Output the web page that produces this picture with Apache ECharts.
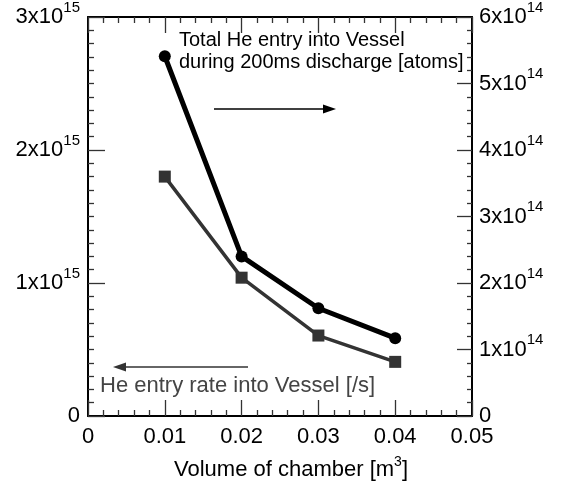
<!DOCTYPE html>
<html>
<head>
<meta charset="utf-8">
<script src="https://cdn.jsdelivr.net/npm/echarts@6/dist/echarts.min.js"></script>
<style>
  html, body { margin: 0; padding: 0; background: #fff; }
  #main { width: 565px; height: 488px; }
</style>
</head>
<body>
<div id="main"></div>
<script>
// chamber volume [m^3]
var volumes = [0.01, 0.02, 0.03, 0.04];
// total He entry during 200ms discharge [atoms] (right axis)
var totalEntry = [5.41e14, 2.40e14, 1.62e14, 1.17e14];
// He entry rate [/s] (left axis)
var entryRate = [1.80e15, 1.04e15, 0.605e15, 0.407e15];
// tick labels
var xTickLabels = ['0', '0.01', '0.02', '0.03', '0.04', '0.05'];
var leftExp = 15;
var rightExp = 14;

var font = 'Liberation Sans, Arial, sans-serif';
var richSci = {
    b: { fontSize: 22, lineHeight: 34, fontFamily: font, color: '#000' },
    s: { fontSize: 15, lineHeight: 15, verticalAlign: 'top', fontFamily: font, color: '#000' }
};

function sciFormatter(unit, exp) {
    return function (v) {
        if (v === 0) return '{b|0}';
        return '{b|' + Math.round(v / unit) + 'x10}{s|' + exp + '}';
    };
}

var chart = echarts.init(document.getElementById('main'));

var xBase = {
    type: 'value',
    min: 0,
    max: 0.05,
    interval: 0.01,
    axisLine: { show: true, onZero: false, lineStyle: { color: '#000', width: 2 } },
    axisTick: { show: true, inside: true, length: 16, lineStyle: { color: '#333', width: 1.3 } },
    minorTick: { show: true, splitNumber: 5, length: 6, lineStyle: { color: '#333', width: 1.3 } },
    splitLine: { show: false }
};

var option = {
    animation: false,
    grid: { left: 88, right: 93, top: 11, bottom: 72 },
    xAxis: [
        Object.assign({}, xBase, {
            position: 'bottom',
            axisLabel: {
                margin: 10,
                fontSize: 22,
                fontFamily: font,
                color: '#000',
                formatter: function (v) { return xTickLabels[Math.round(v * 100)]; }
            },
            name: '{n|Volume of chamber [m}{s|3}{n|]}',
            nameLocation: 'middle',
            nameGap: 39,
            nameTextStyle: {
                padding: [0, 0, 0, 22],
                rich: {
                    n: { fontSize: 22, lineHeight: 30, fontFamily: font, color: '#000' },
                    s: { fontSize: 14, lineHeight: 14, verticalAlign: 'top', fontFamily: font, color: '#000' }
                }
            }
        }),
        Object.assign({}, xBase, {
            position: 'top',
            axisLabel: { show: false }
        })
    ],
    yAxis: [
        {
            type: 'value',
            position: 'left',
            min: 0,
            max: 3e15,
            interval: 1e15,
            axisLine: { show: true, onZero: false, lineStyle: { color: '#000', width: 2 } },
            axisTick: { show: true, inside: true, length: 17, lineStyle: { color: '#333', width: 1.3 } },
            minorTick: { show: true, splitNumber: 10, length: 6, lineStyle: { color: '#333', width: 1.3 } },
            splitLine: { show: false },
            axisLabel: {
                margin: 8,
                formatter: sciFormatter(1e15, leftExp),
                rich: richSci
            }
        },
        {
            type: 'value',
            position: 'right',
            min: 0,
            max: 6e14,
            interval: 1e14,
            axisLine: { show: true, onZero: false, lineStyle: { color: '#000', width: 2 } },
            axisTick: { show: true, inside: true, length: 15, lineStyle: { color: '#333', width: 1.3 } },
            minorTick: { show: true, splitNumber: 5, length: 5, lineStyle: { color: '#333', width: 1.3 } },
            splitLine: { show: false },
            axisLabel: {
                margin: 7,
                formatter: sciFormatter(1e14, rightExp),
                rich: richSci
            }
        }
    ],
    series: [
        {
            name: 'He entry rate',
            type: 'line',
            yAxisIndex: 0,
            data: volumes.map(function (v, i) { return [v, entryRate[i]]; }),
            symbol: 'rect',
            symbolSize: 12,
            lineStyle: { color: '#333', width: 3.5 },
            itemStyle: { color: '#333' }
        },
        {
            name: 'Total He entry',
            type: 'line',
            yAxisIndex: 1,
            data: volumes.map(function (v, i) { return [v, totalEntry[i]]; }),
            symbol: 'circle',
            symbolSize: 12,
            lineStyle: { color: '#000', width: 5 },
            itemStyle: { color: '#000' }
        }
    ],
    graphic: [
        {
            type: 'text', left: 179, top: 29,
            style: { text: 'Total He entry into Vessel\nduring 200ms discharge [atoms]', font: '20px ' + font, lineHeight: 22, fill: '#000' }
        },
        {
            type: 'line',
            shape: { x1: 214, y1: 109, x2: 326, y2: 109 },
            style: { stroke: '#000', lineWidth: 1.3 }
        },
        {
            type: 'polygon',
            shape: { points: [[336, 109], [323, 104.5], [323, 113.5]] },
            style: { fill: '#000' }
        },
        {
            type: 'line',
            shape: { x1: 122, y1: 367, x2: 248, y2: 367 },
            style: { stroke: '#333', lineWidth: 1.3 }
        },
        {
            type: 'polygon',
            shape: { points: [[113, 367], [126, 362.5], [126, 371.5]] },
            style: { fill: '#333' }
        },
        {
            type: 'text', left: 100, top: 375,
            style: { text: 'He entry rate into Vessel [/s]', font: '22px ' + font, fill: '#444' }
        }
    ]
};

chart.setOption(option);
</script>
</body>
</html>
